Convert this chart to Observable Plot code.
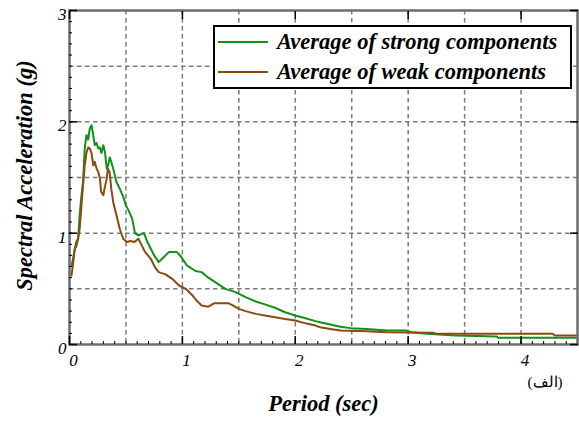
<!DOCTYPE html>
<html>
<head>
<meta charset="utf-8">
<script src="https://cdn.jsdelivr.net/npm/d3@7"></script>
<script src="https://cdn.jsdelivr.net/npm/@observablehq/plot@0.6"></script>
<style>
  html, body { margin: 0; padding: 0; background: #fff; }
  #wrap { position: relative; width: 579px; height: 423px; }
  #legend { position: absolute; left: 213px; top: 25px; width: 355px; height: 60px;
            border: 2px solid #000; background: #fff; box-sizing: content-box;
            font-family: "Liberation Serif", "Times New Roman", serif; font-weight: bold; font-style: italic; font-size: 22.5px; }
  .row { position: absolute; left: 0; height: 28px; line-height: 28px; white-space: nowrap; }
  .sw { position: absolute; left: 3px; top: 13px; width: 50px; height: 0; border-top: 2px solid; }
  .lbl { position: absolute; left: 62px; top: 0; }
</style>
</head>
<body>
<div id="wrap"></div>
<script>
// Series names and colors
const seriesNames = ["Average of strong components", "Average of weak components"];
const seriesColors = ["#12901a", "#8b4a10"];

// Average of strong components: period (sec) and spectral acceleration (g)
const strongT = [0.02,0.047,0.06,0.077,0.09,0.106,0.12,0.135,0.15,0.165,0.18,0.195,0.21,0.224,0.24,0.254,0.27,0.283,0.3,0.315,0.33,0.345,0.357,0.37,0.387,0.416,0.445,0.475,0.5,0.525,0.555,0.58,0.61,0.66,0.69,0.75,0.79,0.82,0.88,0.95,0.98,1.04,1.115,1.17,1.23,1.29,1.38,1.47,1.56,1.65,1.73,1.82,1.91,2.0,2.09,2.18,2.22,2.31,2.40,2.49,2.63,2.81,2.99,3.02,3.17,3.42,3.78,3.8,4.5];
const strongSa = [0.71,0.86,0.88,0.95,1.16,1.34,1.46,1.76,1.88,1.84,1.94,1.97,1.88,1.79,1.81,1.76,1.77,1.72,1.79,1.72,1.58,1.62,1.68,1.64,1.58,1.46,1.40,1.33,1.25,1.20,1.13,1.00,0.98,1.00,0.92,0.80,0.74,0.77,0.83,0.83,0.80,0.71,0.66,0.65,0.60,0.56,0.50,0.47,0.425,0.386,0.36,0.33,0.29,0.26,0.235,0.21,0.20,0.18,0.16,0.147,0.14,0.125,0.125,0.11,0.096,0.08,0.072,0.06,0.06];

// Average of weak components
const weakT = [0.018,0.03,0.047,0.06,0.075,0.09,0.106,0.12,0.135,0.15,0.165,0.18,0.195,0.21,0.224,0.24,0.255,0.27,0.28,0.30,0.31,0.33,0.34,0.355,0.37,0.387,0.416,0.445,0.475,0.51,0.54,0.575,0.61,0.64,0.67,0.72,0.76,0.79,0.85,0.91,0.97,1.03,1.09,1.13,1.17,1.23,1.28,1.41,1.45,1.50,1.56,1.65,1.73,1.82,1.91,2.0,2.09,2.18,2.22,2.31,2.40,2.63,2.81,3.22,3.25,4.28,4.3,4.5];
const weakSa = [0.62,0.71,0.86,0.92,0.95,1.04,1.25,1.43,1.61,1.72,1.77,1.76,1.72,1.61,1.64,1.58,1.55,1.49,1.37,1.34,1.40,1.49,1.58,1.55,1.40,1.28,1.16,1.04,0.95,0.92,0.93,0.92,0.95,0.89,0.83,0.77,0.69,0.65,0.63,0.59,0.53,0.50,0.44,0.39,0.35,0.34,0.37,0.37,0.35,0.32,0.30,0.275,0.26,0.245,0.23,0.215,0.19,0.17,0.155,0.14,0.125,0.12,0.11,0.105,0.096,0.096,0.08,0.08];

// Axis ticks and grid
const xTickLabels = [0, 1, 2, 3, 4];
const yTickLabels = [0, 1, 2, 3];
const xGrid = [0.5, 1, 1.5, 2, 2.5, 3, 3.5, 4];
const yGrid = [0.5, 1, 1.5, 2, 2.5];
const xMinor = d3.range(0, 45).map(i => i / 10);
const yMinor = d3.range(0, 30).map(i => i / 10);
const xTitle = "Period (sec)";
const yTitle = "Spectral Acceleration (g)";
const panelTag = "(الف)";

const strong = strongT.map((t, i) => ({t, sa: strongSa[i]}));
const weak = weakT.map((t, i) => ({t, sa: weakSa[i]}));

const serif = "'Liberation Serif', 'Times New Roman', serif";
const gridStyle = {stroke: "#7a7a7a", strokeOpacity: 1, strokeDasharray: "4.5,3.5", strokeWidth: 1.5};
const fmt = d3.format("d");

const chart = Plot.plot({
  width: 579,
  height: 423,
  marginLeft: 69,
  marginRight: 2,
  marginTop: 10,
  marginBottom: 79,
  style: {fontFamily: serif, fontSize: "17px", background: "#fff", overflow: "visible"},
  x: {domain: [0, 4.5], label: null},
  y: {domain: [0, 3], label: null},
  marks: [
    Plot.gridX(xGrid, gridStyle),
    Plot.gridY(yGrid, gridStyle),
    Plot.line(strong, {x: "t", y: "sa", stroke: seriesColors[0], strokeWidth: 2}),
    Plot.line(weak, {x: "t", y: "sa", stroke: seriesColors[1], strokeWidth: 2}),
    Plot.frame({stroke: "#6e6e6e", strokeWidth: 2.5}),
    // minor ticks (inward)
    Plot.axisX(xMinor, {anchor: "bottom", tickSize: -3, text: null, stroke: "#000"}),
    Plot.axisY(yMinor, {anchor: "left", tickSize: -3, text: null, stroke: "#000"}),
    // major ticks (inward) on all sides
    Plot.axisX(xTickLabels, {anchor: "bottom", tickSize: -8, text: null, stroke: "#000", strokeWidth: 1.5}),
    Plot.axisX(xTickLabels, {anchor: "top", tickSize: -8, text: null, stroke: "#000", strokeWidth: 1.5}),
    Plot.axisY(yTickLabels, {anchor: "left", tickSize: -8, text: null, stroke: "#000", strokeWidth: 1.5}),
    Plot.axisY(yTickLabels, {anchor: "right", tickSize: -8, text: null, stroke: "#000", strokeWidth: 1.5}),
    // tick labels
    Plot.axisX(xTickLabels, {anchor: "bottom", tickSize: 0, tickPadding: 9, dx: 4, tickFormat: fmt, fontStyle: "italic", fontSize: 17, fill: "#000"}),
    Plot.axisY(yTickLabels, {anchor: "left", tickSize: 0, tickPadding: 3, dy: 4, tickFormat: fmt, fontStyle: "italic", fontSize: 17, fill: "#000"}),
    // titles
    Plot.text([xTitle], {frameAnchor: "bottom", dy: 66, text: d => d, textAnchor: "middle", fontWeight: "bold", fontStyle: "italic", fontSize: 22.5, fill: "#000"}),
    Plot.text([yTitle], {frameAnchor: "left", dx: -45, dy: -2, rotate: -90, text: d => d, textAnchor: "middle", fontWeight: "bold", fontStyle: "italic", fontSize: 22.5, fill: "#000"}),
    Plot.text([panelTag], {frameAnchor: "bottom-right", dx: -15, dy: 42, text: d => d, fontSize: 15, fill: "#000", textAnchor: "end"})
  ]
});

const wrap = document.getElementById("wrap");
wrap.appendChild(chart);

const legend = document.createElement("div");
legend.id = "legend";
seriesNames.forEach((name, i) => {
  const row = document.createElement("div");
  row.className = "row";
  row.style.top = (i === 0 ? 1 : 31) + "px";
  row.style.width = "100%";
  const sw = document.createElement("span");
  sw.className = "sw";
  sw.style.borderTopColor = seriesColors[i];
  const lbl = document.createElement("span");
  lbl.className = "lbl";
  lbl.textContent = name;
  row.appendChild(sw);
  row.appendChild(lbl);
  legend.appendChild(row);
});
wrap.appendChild(legend);
</script>
</body>
</html>
